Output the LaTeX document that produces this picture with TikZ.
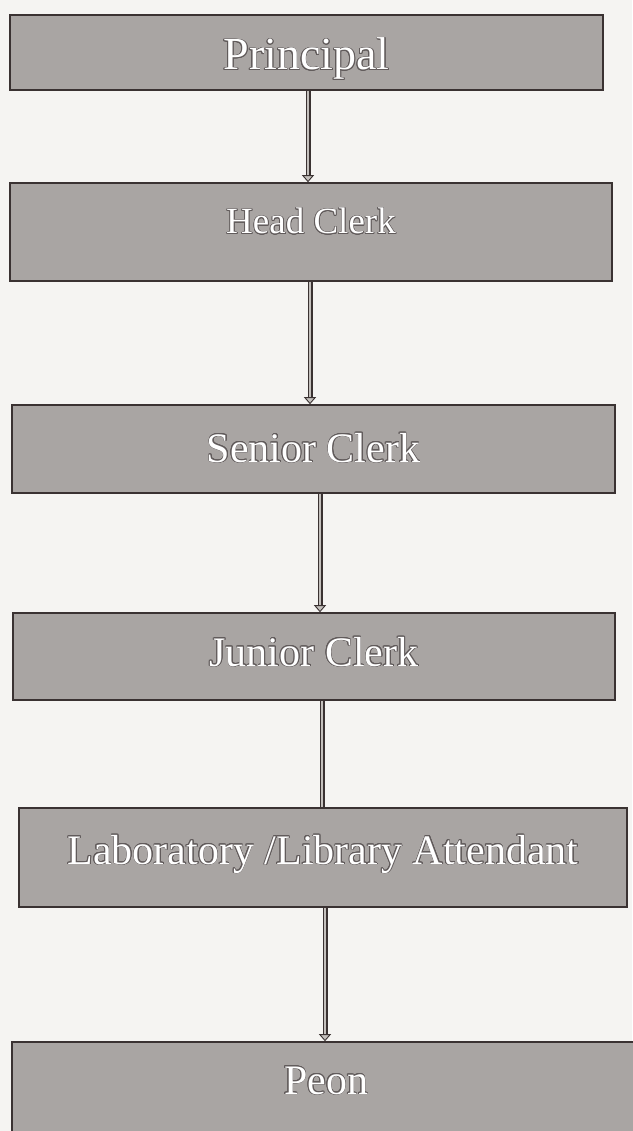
\documentclass[tikz,border=0pt]{standalone}
\usepackage{fontspec}
\setmainfont{Liberation Serif}
\usepackage{contour}
\contourlength{0.7pt}
\usetikzlibrary{arrows.meta,calc}
\definecolor{bgc}{HTML}{F5F4F2}
\definecolor{boxc}{HTML}{A9A5A3}
\definecolor{edgec}{HTML}{3A3232}
\definecolor{shaftc}{HTML}{C4C0BD}
\newcommand{\boxtext}[2]{\raisebox{#1}[0pt][0pt]{\contour{edgec!80}{\textcolor{white}{#2}}}}
\tikzset{
  orgbox/.style={draw=edgec, line width=1.6pt, fill=boxc, rectangle, inner sep=0pt},
  conn/.style={draw=edgec, line width=1.3pt, double=shaftc, double distance=2.4pt,
    -{Triangle[length=7pt,width=12pt,fill=shaftc,line width=0.9pt]}},
  connplain/.style={draw=edgec, line width=1.3pt, double=shaftc, double distance=2.4pt}
}
\begin{document}
\begin{tikzpicture}[x=1pt,y=1pt]
\fill[bgc] (0,0) rectangle (632,-1131);
\useasboundingbox (0,0) rectangle (632,-1131);

\node[orgbox, minimum width=593pt, minimum height=75pt, font=\fontsize{46}{50}\selectfont] (p) at (306.5,-52.5) {\boxtext{-17.5pt}{Principal}};
\node[orgbox, minimum width=602pt, minimum height=98pt, font=\fontsize{37}{40}\selectfont] (h) at (311,-232) {\boxtext{-2pt}{Head Clerk}};
\node[orgbox, minimum width=603pt, minimum height=88pt, font=\fontsize{42}{46}\selectfont] (s) at (313.5,-449) {\boxtext{-13pt}{Senior Clerk}};
\node[orgbox, minimum width=602pt, minimum height=87pt, font=\fontsize{42}{46}\selectfont] (j) at (314,-656.5) {\boxtext{-9.5pt}{Junior Clerk}};
\node[orgbox, minimum width=608pt, minimum height=99pt, font=\fontsize{42}{46}\selectfont] (l) at (323,-857.5) {\boxtext{-6.5pt}{Laboratory /Library Attendant}};
\node[orgbox, minimum width=628pt, minimum height=93pt, font=\fontsize{42}{46}\selectfont] (n) at (326,-1088.5) {\boxtext{-5.5pt}{Peon}};

\draw[conn] ([xshift=1.5pt]p.south) -- ([xshift=1.5pt]p.south |- h.north);
\draw[conn] ([xshift=-1pt]h.south) -- ([xshift=-1pt]h.south |- s.north);
\draw[conn] ([xshift=6.5pt]s.south) -- ([xshift=6.5pt]s.south |- j.north);
\draw[connplain] ([xshift=8pt]j.south) -- ([xshift=8pt]j.south |- l.north);
\draw[conn] ([xshift=2pt]l.south) -- ([xshift=2pt]l.south |- n.north);
\end{tikzpicture}
\end{document}
